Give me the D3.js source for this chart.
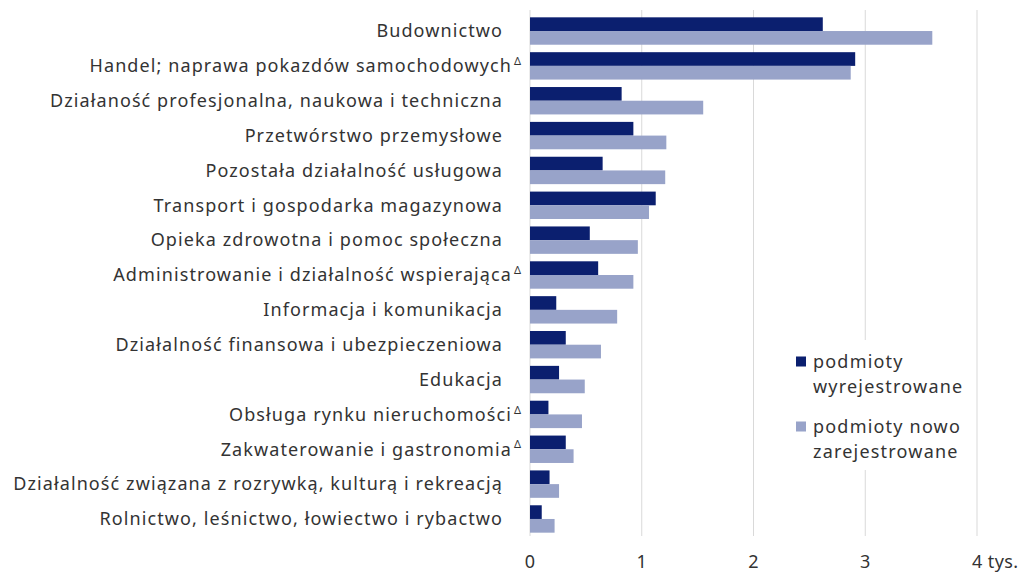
<!DOCTYPE html>
<html><head><meta charset="utf-8">
<script src="https://cdn.jsdelivr.net/npm/d3@7"></script>
<style>body{margin:0;background:#fff;} svg{display:block;}</style>
</head><body>
<svg id="c" width="1021" height="576"></svg>
<script>
const categories = [
  "Budownictwo",
  "Handel; naprawa pokazdów samochodowych",
  "Działaność profesjonalna, naukowa i techniczna",
  "Przetwórstwo przemysłowe",
  "Pozostała działalność usługowa",
  "Transport i gospodarka magazynowa",
  "Opieka zdrowotna i pomoc społeczna",
  "Administrowanie i działalność wspierająca",
  "Informacja i komunikacja",
  "Działalność finansowa i ubezpieczeniowa",
  "Edukacja",
  "Obsługa rynku nieruchomości",
  "Zakwaterowanie i gastronomia",
  "Działalność związana z rozrywką, kulturą i rekreacją",
  "Rolnictwo, leśnictwo, łowiectwo i rybactwo"
];
const deltaMarked = [false, true, false, false, false, false, false, true, false, false, false, true, true, false, false];
const wyrejestrowane = [2.62, 2.91, 0.82, 0.925, 0.65, 1.125, 0.535, 0.61, 0.235, 0.32, 0.26, 0.165, 0.32, 0.175, 0.105];
const noweZarejestrowane = [3.60, 2.87, 1.55, 1.22, 1.21, 1.065, 0.965, 0.925, 0.78, 0.635, 0.49, 0.465, 0.39, 0.26, 0.22];
const seriesNames = ["podmioty wyrejestrowane", "podmioty nowo zarejestrowane"];
const tickValues = [0, 1, 2, 3, 4];
const tickLabels = ["0", "1", "2", "3", "4 tys."];
const colors = ["#0b1f6f", "#98a3c9"];

const svg = d3.select("#c");
const font = "'Noto Sans', sans-serif";
const x = d3.scaleLinear().domain([0, 4]).range([530, 977]);
const y = d3.scaleBand().domain(categories).range([13.6, 536.4]).paddingInner(0.214).paddingOuter(0.107);
const ySub = d3.scaleBand().domain([0, 1]).range([0, y.bandwidth()]);

// gridlines
svg.append("g").selectAll("line").data(tickValues).join("line")
  .attr("x1", d => x(d)).attr("x2", d => x(d))
  .attr("y1", 10).attr("y2", 536)
  .attr("stroke", "#d9d9d9").attr("stroke-width", 1);

// bars
const series = [wyrejestrowane, noweZarejestrowane];
series.forEach((vals, si) => {
  svg.append("g").selectAll("rect").data(categories).join("rect")
    .attr("x", x(0))
    .attr("y", d => y(d) + ySub(si))
    .attr("width", (d, i) => x(vals[i]) - x(0))
    .attr("height", ySub.bandwidth())
    .attr("fill", colors[si]);
});

// category labels
const lab = svg.append("g").selectAll("text").data(categories).join("text")
  .attr("x", 503)
  .attr("y", d => y(d) + y.bandwidth() / 2)
  .attr("dy", "0.35em")
  .attr("text-anchor", "end")
  .attr("font-family", font).attr("font-size", 18).attr("fill", "#333")
  .attr("letter-spacing", 1.1);
lab.each(function(d, i) {
  const t = d3.select(this);
  if (deltaMarked[i]) {
    t.attr("x", 521);
    t.append("tspan").text(d);
    t.append("tspan").text("Δ").attr("font-size", 11).attr("letter-spacing", 0).attr("dx", 2).attr("dy", "-0.65em");
  } else {
    t.text(d);
  }
});

// x tick labels
svg.append("g").selectAll("text").data(tickValues).join("text")
  .attr("x", d => x(d))
  .attr("y", 568)
  .attr("text-anchor", (d, i) => i === tickValues.length - 1 ? "start" : "middle")
  .attr("dx", (d, i) => i === tickValues.length - 1 ? -5 : 0)
  .attr("font-family", font).attr("font-size", 18).attr("fill", "#333")
  .attr("letter-spacing", (d, i) => i === tickValues.length - 1 ? 0.4 : 0)
  .text((d, i) => tickLabels[i]);

// legend
const lg = svg.append("g");
lg.append("rect").attr("x", 788).attr("y", 340).attr("width", 182).attr("height", 130).attr("fill", "#fff");
const legendLines = [["podmioty", "wyrejestrowane"], ["podmioty nowo", "zarejestrowane"]];
legendLines.forEach((lines, i) => {
  const top = 356.5 + i * 65;
  lg.append("rect").attr("x", 796).attr("y", top).attr("width", 10).attr("height", 10).attr("fill", colors[i]);
  lines.forEach((ln, j) => {
    lg.append("text").attr("x", 813).attr("y", top + 11 + j * 25)
      .attr("font-family", font).attr("font-size", 18).attr("fill", "#333")
      .attr("letter-spacing", 1.2)
      .text(ln);
  });
});
</script>
</body></html>
